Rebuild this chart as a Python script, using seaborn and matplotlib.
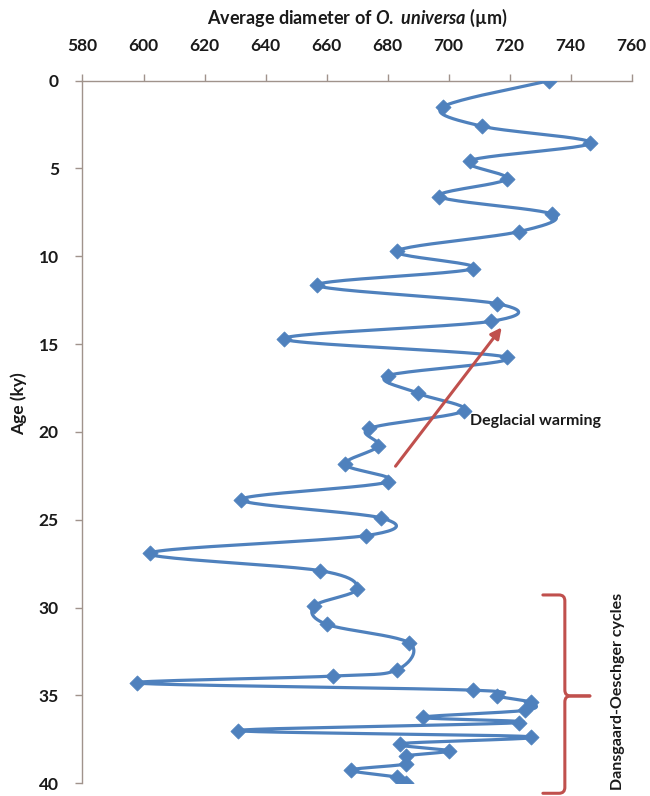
import numpy as np
import pandas as pd
import matplotlib
matplotlib.use("Agg")
import matplotlib.pyplot as plt
import seaborn as sns
from matplotlib.path import Path
from matplotlib.patches import PathPatch

# ---- data ----
diameter = [733, 698, 711, 746.5, 707, 719, 697, 734, 723, 683,
            708, 657, 716, 714, 646, 719, 680, 690, 705, 674,
            677, 666, 680, 632, 678, 673, 602, 658, 670, 656,
            660, 687, 683, 662, 598, 708, 716, 727, 725, 691.5,
            723, 631, 727, 684, 700, 686, 686, 668, 683, 686]
age = [0, 1.5, 2.6, 3.55, 4.55, 5.6, 6.6, 7.6, 8.6, 9.7,
       10.7, 11.65, 12.7, 13.7, 14.7, 15.75, 16.8, 17.8, 18.8, 19.8,
       20.8, 21.85, 22.85, 23.85, 24.9, 25.9, 26.9, 27.9, 28.95, 29.9,
       30.95, 32.0, 33.55, 33.9, 34.3, 34.7, 35.05, 35.4, 35.85, 36.25,
       36.55, 37.0, 37.35, 37.75, 38.15, 38.45, 38.9, 39.25, 39.65, 40.0]
x_ticks = [580, 600, 620, 640, 660, 680, 700, 720, 740, 760]
y_ticks = [0, 5, 10, 15, 20, 25, 30, 35, 40]
x_label_main = "Average diameter of "
x_label_species = "O. universa"
x_label_unit = " (µm)"
y_label = "Age (ky)"
arrow_text = "Deglacial warming"
brace_text = "Dansgaard-Oeschger cycles"

sns.set_theme(style="white")
plt.rcParams['font.family'] = ['Lato', 'DejaVu Sans']
plt.rcParams['mathtext.fontset'] = 'custom'
plt.rcParams['mathtext.it'] = 'Lato:italic:bold'
plt.rcParams['mathtext.rm'] = 'Lato:bold'
plt.rcParams['mathtext.bf'] = 'Lato:bold'

BLUE = '#4f81bd'
RED = '#c0504d'
AXC = '#a0938c'
TXT = '#1a1a1a'

fig = plt.figure(figsize=(6.5, 7.96), dpi=100)
ax = fig.add_axes([0.1269, 0.0160, 0.8449, 0.8827])
xmin, xmax, ymin, ymax = 580, 760, 0, 40
ax.set_xlim(xmin, xmax)
ax.set_ylim(ymax, ymin)

# Excel-like smoothed line (Catmull-Rom Bezier computed in pixel space)
W, H = 549.2, 702.6
px = (np.array(diameter) - xmin) / (xmax - xmin) * W
py = (np.array(age) - ymin) / (ymax - ymin) * H
P = np.column_stack([px, py])
n = len(P)
curve = [P[0]]
t = np.linspace(0, 1, 25)[1:]
for i in range(n - 1):
    p0 = P[i - 1] if i > 0 else P[i]
    p1 = P[i]
    p2 = P[i + 1]
    p3 = P[i + 2] if i + 2 < n else P[i + 1]
    c1 = p1 + (p2 - p0) / 6.0
    c2 = p2 - (p3 - p1) / 6.0
    for tt in t:
        b = ((1 - tt) ** 3) * p1 + 3 * ((1 - tt) ** 2) * tt * c1 + 3 * (1 - tt) * tt ** 2 * c2 + tt ** 3 * p2
        curve.append(b)
curve = np.array(curve)
smooth = pd.DataFrame({
    "d": curve[:, 0] / W * (xmax - xmin) + xmin,
    "a": curve[:, 1] / H * (ymax - ymin) + ymin,
})
pts = pd.DataFrame({"d": diameter, "a": age})

sns.lineplot(data=smooth, x="d", y="a", sort=False, estimator=None,
             color=BLUE, lw=2.3, ax=ax, zorder=3)
sns.scatterplot(data=pts, x="d", y="a", marker="D", s=60, color=BLUE,
                edgecolor=BLUE, linewidth=0.5, ax=ax, zorder=4)

# axes styling
for side in ['right', 'bottom']:
    ax.spines[side].set_visible(False)
for side in ['top', 'left']:
    ax.spines[side].set_color(AXC)
    ax.spines[side].set_linewidth(1.0)
ax.xaxis.tick_top()
ax.xaxis.set_label_position('top')
ax.set_xticks(x_ticks)
ax.set_yticks(y_ticks)
ax.tick_params(axis='x', which='major', direction='out', length=5, width=1,
               color=AXC, labelsize=12.5, labelcolor=TXT, pad=14, top=True, bottom=False)
ax.tick_params(axis='y', which='major', direction='out', length=5, width=1,
               color=AXC, labelsize=12.5, labelcolor=TXT, pad=12, left=True)
for lab in ax.get_xticklabels() + ax.get_yticklabels():
    lab.set_fontweight('bold')

ax.set_xlabel(x_label_main + r"$\mathit{O.\ universa}$" + x_label_unit,
              fontsize=13, fontweight='bold', color=TXT, labelpad=10)
ax.set_ylabel(y_label, fontsize=12.5, fontweight='bold', color=TXT)
ax.yaxis.set_label_coords(-0.10, 0.54)
ax.grid(False)

# red arrow + text
ax.annotate("", xy=(717.4, 14.05), xytext=(682.6, 21.95),
            arrowprops=dict(arrowstyle='-|>', color=RED, lw=2.2,
                            mutation_scale=16, shrinkA=0, shrinkB=0), zorder=5)
ax.text(707, 19.4, arrow_text, fontsize=11.5, fontweight='bold', color=TXT,
        ha='left', va='center', zorder=6)

# curly brace
rx, ry = 1.9, 0.34
xs, xl, xt = 738.1, 730.9, 746.3
yt, ym, yb = 29.28, 35.03, 40.57
verts = [(xl, yt), (xs - rx, yt), (xs, yt), (xs, yt + ry),
         (xs, ym - ry), (xs, ym), (xs + rx, ym), (xt, ym)]
codes = [Path.MOVETO, Path.LINETO, Path.CURVE3, Path.CURVE3,
         Path.LINETO, Path.CURVE3, Path.CURVE3, Path.LINETO]
verts2 = [(xt, ym), (xs + rx, ym), (xs, ym), (xs, ym + ry),
          (xs, yb - ry), (xs, yb), (xs - rx, yb), (xl, yb)]
for v in (verts, verts2):
    patch = PathPatch(Path(v, codes), facecolor='none', edgecolor=RED, lw=2.2,
                      clip_on=False, zorder=5, capstyle='round', joinstyle='round')
    ax.add_patch(patch)
ax.text(755.6, 34.8, brace_text, rotation=90, fontsize=11.5, fontweight='bold',
        color=TXT, ha='center', va='center', clip_on=False)

fig.savefig("out.png", dpi=100)
